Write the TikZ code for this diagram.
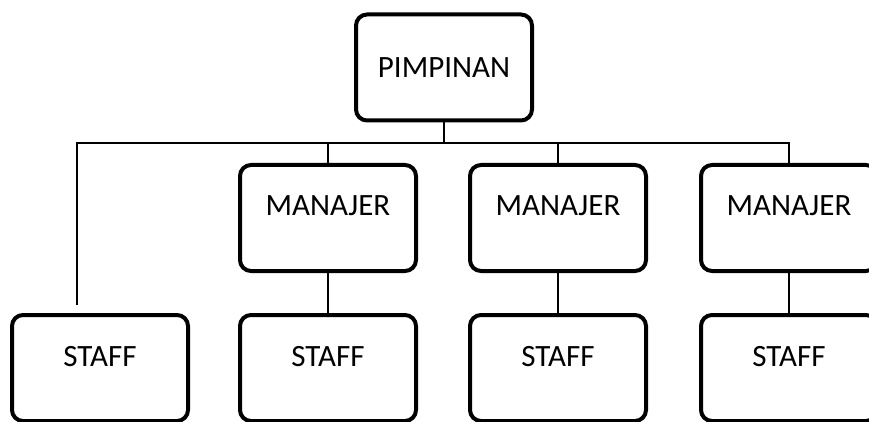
\documentclass[tikz,border=0pt]{standalone}
\usepackage{fontspec}
\setmainfont{Carlito}
\begin{document}
\begin{tikzpicture}[x=1pt,y=-1pt,
  box/.style={draw,line width=4pt,rounded corners=11pt,minimum width=176pt,minimum height=106pt,inner sep=0pt,font=\fontsize{31}{37}\selectfont},
  manbox/.style={box,text height=21pt,text depth=27pt},
  staffbox/.style={box,text height=21pt,text depth=25pt},
  link/.style={line width=1.3pt}]
\useasboundingbox (0,0) rectangle (869,422);
\clip (0,0) rectangle (869,422);
\node[box] (pim) at (444,67.5) {PIMPINAN};
\node[manbox] (man1) at (328,218) {MANAJER};
\node[manbox] (man2) at (558,218) {MANAJER};
\node[manbox] (man3) at (789,218) {MANAJER};
\node[staffbox] (staff0) at (100,368) {STAFF};
\node[staffbox] (staff1) at (328,368) {STAFF};
\node[staffbox] (staff2) at (558,368) {STAFF};
\node[staffbox] (staff3) at (789,368) {STAFF};
\coordinate (busL) at (77,143);
\coordinate (endL) at (77,305);
\draw[link] (pim.south) -- (pim.south |- busL);
\draw[link] (endL) -- (busL) -- (busL -| man3.north) -- (man3.north);
\draw[link] (man1.north |- busL) -- (man1.north);
\draw[link] (man2.north |- busL) -- (man2.north);
\draw[link] (man1) -- (staff1);
\draw[link] (man2) -- (staff2);
\draw[link] (man3) -- (staff3);
\end{tikzpicture}
\end{document}
